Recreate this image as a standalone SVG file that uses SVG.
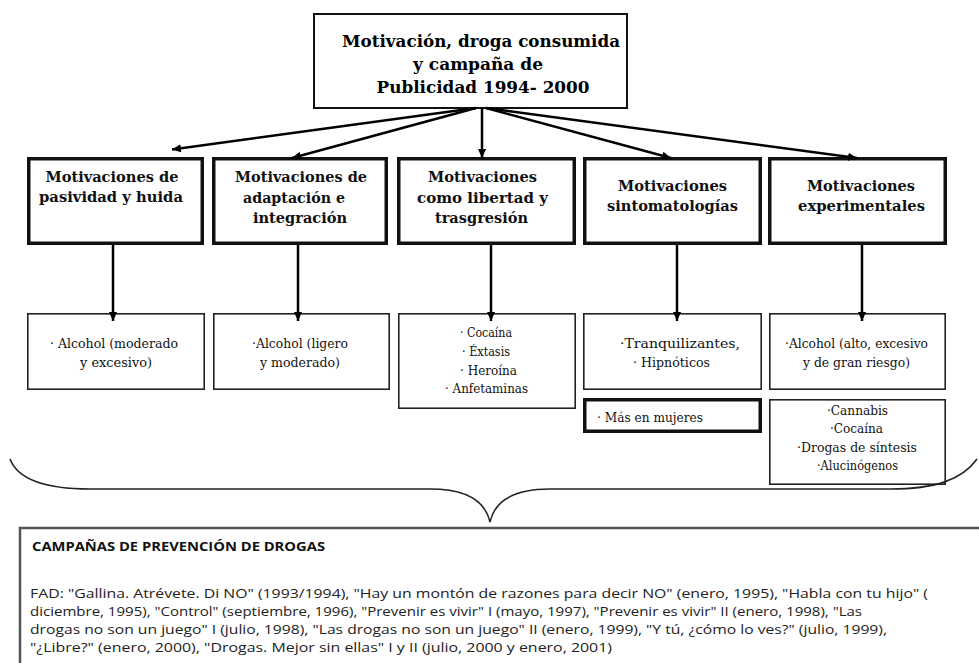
<svg xmlns="http://www.w3.org/2000/svg" width="979" height="663" viewBox="0 0 979 663">
<style>
.bg{fill:#fff}
.top{fill:#fff;stroke:#111;stroke-width:2}
.mot{fill:#fff;stroke:#111;stroke-width:3.5}
.drug{fill:#fff;stroke:#222;stroke-width:1.6}
.thick{fill:#fff;stroke:#111;stroke-width:3.5}
.conn line{stroke:#000;stroke-width:2.5}
.t1{font-family:"DejaVu Serif","Liberation Serif",serif;font-weight:bold;font-size:17px;fill:#000;text-anchor:middle}
.t2{font-family:"DejaVu Serif","Liberation Serif",serif;font-weight:bold;font-size:14.5px;fill:#111;text-anchor:middle}
.t3{font-family:"DejaVu Serif","Liberation Serif",serif;font-size:12px;fill:#111;text-anchor:middle}
.t3s{font-family:"DejaVu Serif","Liberation Serif",serif;font-size:12px;fill:#111}
.ct{font-family:"Open Sans","Liberation Sans",sans-serif;font-weight:bold;font-size:13px;fill:#111}
.cb{font-family:"Open Sans","Liberation Sans",sans-serif;font-size:13px;fill:#222}
</style>
<defs>
<marker id="ah" viewBox="0 0 10 10" refX="10" refY="5" markerWidth="9" markerHeight="9" orient="auto" markerUnits="userSpaceOnUse">
<path d="M0,0.5 L10,5 L0,9.5 z" fill="#000"/>
</marker>
</defs>
<rect class="bg" x="0" y="0" width="979" height="663"/>

<g id="top">
<rect class="top" x="314" y="14" width="313" height="94"/>
<text class="t1" x="481" y="47" textLength="278" lengthAdjust="spacingAndGlyphs">Motivación, droga consumida</text>
<text class="t1" x="478" y="70" textLength="130" lengthAdjust="spacingAndGlyphs">y campaña de</text>
<text class="t1" x="483" y="93" textLength="213" lengthAdjust="spacingAndGlyphs">Publicidad 1994- 2000</text>
</g>

<g id="mot1">
<rect class="mot" x="28.75" y="158.75" width="173.5" height="84.5"/>
<text class="t2" x="112" y="182" textLength="133" lengthAdjust="spacingAndGlyphs">Motivaciones de</text>
<text class="t2" x="111" y="202" textLength="144" lengthAdjust="spacingAndGlyphs">pasividad y huida</text>
</g>
<g id="mot2">
<rect class="mot" x="213.75" y="158.75" width="172.5" height="84.5"/>
<text class="t2" x="301" y="182" textLength="132" lengthAdjust="spacingAndGlyphs">Motivaciones de</text>
<text class="t2" x="294" y="203" textLength="102" lengthAdjust="spacingAndGlyphs">adaptación e</text>
<text class="t2" x="300" y="223" textLength="94" lengthAdjust="spacingAndGlyphs">integración</text>
</g>
<g id="mot3">
<rect class="mot" x="398.75" y="158.75" width="175.5" height="84.5"/>
<text class="t2" x="482.5" y="182" textLength="109" lengthAdjust="spacingAndGlyphs">Motivaciones</text>
<text class="t2" x="482.5" y="203" textLength="131" lengthAdjust="spacingAndGlyphs">como libertad y</text>
<text class="t2" x="481.5" y="223" textLength="93" lengthAdjust="spacingAndGlyphs">trasgresión</text>
</g>
<g id="mot4">
<rect class="mot" x="584.75" y="158.75" width="175.5" height="84.5"/>
<text class="t2" x="672.5" y="191" textLength="109" lengthAdjust="spacingAndGlyphs">Motivaciones</text>
<text class="t2" x="672.5" y="211" textLength="131" lengthAdjust="spacingAndGlyphs">sintomatologías</text>
</g>
<g id="mot5">
<rect class="mot" x="769.75" y="158.75" width="175.5" height="84.5"/>
<text class="t2" x="861" y="191" textLength="108" lengthAdjust="spacingAndGlyphs">Motivaciones</text>
<text class="t2" x="861.5" y="211" textLength="127" lengthAdjust="spacingAndGlyphs">experimentales</text>
</g>

<g id="drug1">
<rect class="drug" x="27.8" y="313.8" width="176.4" height="75.4"/>
<text class="t3" x="114" y="348" textLength="128" lengthAdjust="spacingAndGlyphs">· Alcohol (moderado</text>
<text class="t3" x="116" y="367" textLength="72" lengthAdjust="spacingAndGlyphs">y excesivo)</text>
</g>
<g id="drug2">
<rect class="drug" x="213.8" y="313.8" width="175.4" height="75.4"/>
<text class="t3" x="300" y="348" textLength="96" lengthAdjust="spacingAndGlyphs">·Alcohol (ligero</text>
<text class="t3" x="300" y="367" textLength="80" lengthAdjust="spacingAndGlyphs">y moderado)</text>
</g>
<g id="drug3">
<rect class="drug" x="398.8" y="313.8" width="176.4" height="94.4"/>
<text class="t3" x="486" y="337" textLength="52" lengthAdjust="spacingAndGlyphs">· Cocaína</text>
<text class="t3" x="486" y="356" textLength="48" lengthAdjust="spacingAndGlyphs">· Éxtasis</text>
<text class="t3" x="488.5" y="375" textLength="57" lengthAdjust="spacingAndGlyphs">· Heroína</text>
<text class="t3" x="486.5" y="393" textLength="83" lengthAdjust="spacingAndGlyphs">· Anfetaminas</text>
</g>
<g id="drug4">
<rect class="drug" x="583.8" y="313.8" width="177.4" height="75.4"/>
<text class="t3" x="680" y="348" textLength="120" lengthAdjust="spacingAndGlyphs">·Tranquilizantes,</text>
<text class="t3" x="671.5" y="367" textLength="77" lengthAdjust="spacingAndGlyphs">· Hipnóticos</text>
</g>
<g id="drug4b">
<rect class="thick" x="584.75" y="399.75" width="175.5" height="31.5"/>
<text class="t3s" x="597" y="422" textLength="106" lengthAdjust="spacingAndGlyphs">· Más en mujeres</text>
</g>
<g id="drug5">
<rect class="drug" x="769.8" y="313.8" width="175.4" height="75.4"/>
<text class="t3" x="856.5" y="348" textLength="143" lengthAdjust="spacingAndGlyphs">·Alcohol (alto, excesivo</text>
<text class="t3" x="856.5" y="367" textLength="107" lengthAdjust="spacingAndGlyphs">y de gran riesgo)</text>
</g>
<g id="drug5b">
<rect class="drug" x="769.8" y="399.8" width="175.4" height="84.4"/>
<text class="t3" x="857.5" y="415" textLength="61" lengthAdjust="spacingAndGlyphs">·Cannabis</text>
<text class="t3" x="856.5" y="433" textLength="53" lengthAdjust="spacingAndGlyphs">·Cocaína</text>
<text class="t3" x="857" y="452" textLength="120" lengthAdjust="spacingAndGlyphs">·Drogas de síntesis</text>
<text class="t3" x="857.5" y="470" textLength="81" lengthAdjust="spacingAndGlyphs">·Alucinógenos</text>
</g>

<g id="connectors" class="conn">
<line x1="476" y1="108" x2="172" y2="149.5" marker-end="url(#ah)"/>
<line x1="476" y1="108" x2="292" y2="158" marker-end="url(#ah)"/>
<line x1="482" y1="108" x2="482" y2="158" marker-end="url(#ah)"/>
<line x1="486" y1="108" x2="671" y2="158" marker-end="url(#ah)"/>
<line x1="486" y1="108" x2="857" y2="158" marker-end="url(#ah)"/>
<line x1="113" y1="245" x2="113" y2="321" marker-end="url(#ah)"/>
<line x1="298" y1="245" x2="298" y2="321" marker-end="url(#ah)"/>
<line x1="491" y1="245" x2="491" y2="321" marker-end="url(#ah)"/>
<line x1="677" y1="245" x2="677" y2="321" marker-end="url(#ah)"/>
<line x1="862" y1="245" x2="862" y2="321" marker-end="url(#ah)"/>
</g>

<g id="brace">
<path d="M10,459 C18,480 45,489 90,489 L430,489 C465,489 485,500 490,522 C495,500 515,489 550,489 L890,489 C935,489 962,480 977,459" fill="none" stroke="#222" stroke-width="1.6"/>
</g>

<g id="campaigns">
<path d="M20,663 L20,528 L979,528" fill="none" stroke="#555" stroke-width="2.5"/>
<text class="ct" x="32" y="551" textLength="293" lengthAdjust="spacingAndGlyphs">CAMPAÑAS DE PREVENCIÓN DE DROGAS</text>
<text class="cb" x="30" y="598" textLength="898" lengthAdjust="spacingAndGlyphs">FAD: "Gallina. Atrévete. Di NO" (1993/1994), "Hay un montón de razones para decir NO" (enero, 1995), "Habla con tu hijo" (</text>
<text class="cb" x="30" y="616" textLength="832" lengthAdjust="spacingAndGlyphs">diciembre, 1995), "Control" (septiembre, 1996), "Prevenir es vivir" I (mayo, 1997), "Prevenir es vivir" II (enero, 1998), "Las</text>
<text class="cb" x="30" y="634" textLength="857" lengthAdjust="spacingAndGlyphs">drogas no son un juego" I (julio, 1998), "Las drogas no son un juego" II (enero, 1999), "Y tú, ¿cómo lo ves?" (julio, 1999),</text>
<text class="cb" x="30" y="652" textLength="582" lengthAdjust="spacingAndGlyphs">"¿Libre?" (enero, 2000), "Drogas. Mejor sin ellas" I y II (julio, 2000 y enero, 2001)</text>
</g>
</svg>
